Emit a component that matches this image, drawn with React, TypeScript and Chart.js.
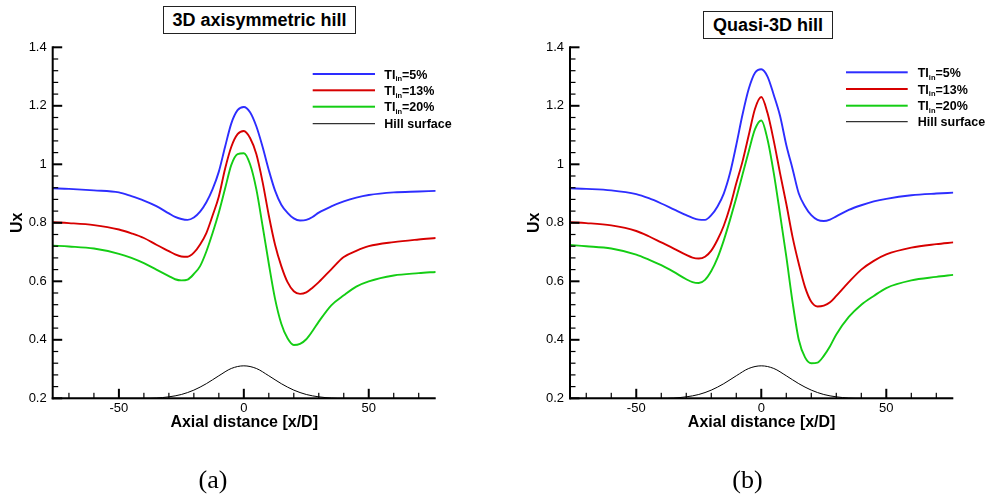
import React, { useEffect, useRef } from "react";
import { Chart, registerables } from "chart.js";

Chart.register(...registerables);

const FONT = '"Liberation Sans", Arial, Helvetica, sans-serif';
const SERIF = '"Liberation Serif", "Times New Roman", Times, serif';

// ---- data ----
const X_MIN = -76.5;
const X_MAX = 76.8;
const Y_MIN = 0.2;
const Y_MAX = 1.4;

const xGrid = [-76.5, -70, -60, -50, -45, -40, -35, -30, -27.5, -25, -22.5, -20, -17.5, -15, -12.5, -10, -7.5, -5, -2.5, 0, 2.5, 5, 7.5, 10, 12.5, 15, 17.5, 20, 22.5, 25, 27.5, 30, 35, 40, 45, 50, 60, 70, 76.8];

// (a) 3D axisymmetric hill
const blueA = [0.918, 0.916, 0.911, 0.904, 0.891, 0.876, 0.857, 0.832, 0.82, 0.813, 0.81, 0.818, 0.838, 0.87, 0.915, 0.975, 1.06, 1.14, 1.185, 1.196, 1.178, 1.13, 1.06, 0.98, 0.91, 0.862, 0.834, 0.815, 0.808, 0.81, 0.82, 0.835, 0.856, 0.873, 0.886, 0.895, 0.904, 0.907, 0.909];
const redA = [0.802, 0.799, 0.792, 0.777, 0.764, 0.748, 0.725, 0.703, 0.692, 0.685, 0.684, 0.698, 0.726, 0.765, 0.825, 0.89, 0.985, 1.06, 1.103, 1.114, 1.09, 1.035, 0.94, 0.825, 0.725, 0.652, 0.597, 0.566, 0.557, 0.562, 0.578, 0.597, 0.641, 0.683, 0.704, 0.72, 0.734, 0.743, 0.748];
const greenA = [0.722, 0.719, 0.712, 0.694, 0.68, 0.662, 0.64, 0.618, 0.607, 0.603, 0.606, 0.625, 0.652, 0.702, 0.765, 0.835, 0.917, 0.998, 1.035, 1.038, 1.0, 0.915, 0.79, 0.66, 0.54, 0.455, 0.405, 0.382, 0.386, 0.402, 0.43, 0.462, 0.518, 0.552, 0.582, 0.6, 0.62, 0.628, 0.632];

// (b) Quasi-3D hill
const blueB = [0.918, 0.916, 0.911, 0.898, 0.884, 0.866, 0.846, 0.826, 0.817, 0.811, 0.81, 0.826, 0.856, 0.9, 0.97, 1.066, 1.17, 1.258, 1.313, 1.325, 1.3, 1.237, 1.166, 1.066, 0.985, 0.9, 0.856, 0.826, 0.81, 0.806, 0.811, 0.822, 0.844, 0.86, 0.873, 0.882, 0.894, 0.9, 0.903];
const redB = [0.802, 0.799, 0.791, 0.772, 0.754, 0.733, 0.712, 0.69, 0.681, 0.678, 0.684, 0.705, 0.742, 0.79, 0.855, 0.935, 1.01, 1.1, 1.19, 1.23, 1.175, 1.08, 0.97, 0.865, 0.752, 0.66, 0.58, 0.53, 0.514, 0.517, 0.528, 0.55, 0.597, 0.64, 0.67, 0.692, 0.715, 0.727, 0.733];
const greenB = [0.724, 0.72, 0.712, 0.691, 0.674, 0.655, 0.632, 0.607, 0.597, 0.594, 0.605, 0.635, 0.68, 0.74, 0.81, 0.885, 0.965, 1.045, 1.12, 1.15, 1.085, 0.97, 0.83, 0.685, 0.53, 0.4, 0.34, 0.32, 0.322, 0.345, 0.378, 0.418, 0.478, 0.52, 0.55, 0.577, 0.603, 0.615, 0.622];

// hill surface (same in both panels)
const hillX = [-76.5, -50, -40, -35, -30, -25, -20, -15, -10, -5, 0, 5, 10, 15, 20, 25, 30, 35, 40, 50, 76.8];
const hillY = [0.2, 0.2, 0.2, 0.201, 0.205, 0.213, 0.228, 0.25, 0.277, 0.302, 0.311, 0.302, 0.277, 0.25, 0.228, 0.213, 0.205, 0.201, 0.2, 0.2, 0.2];

// ticks
const xTickLabels = [-50, 0, 50];
const xMinorTicks = [-70, -60, -40, -30, -20, -10, 10, 20, 30, 40, 60, 70];
const yTickLabels = [0.2, 0.4, 0.6, 0.8, 1, 1.2, 1.4];
const yMinorTicks = [0.24, 0.28, 0.32, 0.36, 0.44, 0.48, 0.52, 0.56, 0.64, 0.68, 0.72, 0.76, 0.84, 0.88, 0.92, 0.96, 1.04, 1.08, 1.12, 1.16, 1.24, 1.28, 1.32, 1.36];

// legend
const legendMain = ["TI", "TI", "TI", "Hill surface"];
const legendSub = ["in", "in", "in", ""];
const legendRest = ["=5%", "=13%", "=20%", ""];

const BLUE = "rgb(45,45,255)";
const RED = "rgb(215,0,0)";
const GREEN = "rgb(20,205,20)";
const BLACK = "#000";
const legendColors = [BLUE, RED, GREEN, BLACK];
const legendWidths = [2, 2, 2, 1];

const legendPlugin = {
  id: "tecLegend",
  afterDraw(chart: any, _args: any, opts: any) {
    if (!opts || !opts.ys) return;
    const ctx = chart.ctx;
    ctx.save();
    ctx.textAlign = "left";
    ctx.textBaseline = "alphabetic";
    legendMain.forEach((main, i) => {
      const ly = opts.ys[i];
      ctx.fillStyle = "#000";
      const base = ly + 4.6;
      let tx = opts.tx;
      ctx.font = `bold 12.5px ${FONT}`;
      ctx.fillText(main, tx, base);
      tx += ctx.measureText(main).width;
      if (legendSub[i]) {
        ctx.font = `bold 7.5px ${FONT}`;
        ctx.fillText(legendSub[i], tx, base + 2.6);
        tx += ctx.measureText(legendSub[i]).width;
      }
      if (legendRest[i]) {
        ctx.font = `bold 12.5px ${FONT}`;
        ctx.fillText(legendRest[i], tx, base);
      }
      const lw = legendWidths[i];
      ctx.fillStyle = legendColors[i];
      ctx.fillRect(opts.x0, ly - lw / 2, opts.x1 - opts.x0, lw);
    });
    ctx.restore();
  },
};

// axes + inward ticks drawn on an overlay canvas from the chart's own scales
function drawAxesOverlay(chart: any, canvas: HTMLCanvasElement) {
  const ctx = canvas.getContext("2d");
  if (!ctx) return;
  const x = chart.scales.x;
  const y = chart.scales.y;
  const left = x.getPixelForValue(X_MIN);
  const right = x.getPixelForValue(X_MAX);
  const top = y.getPixelForValue(Y_MAX);
  const bottom = y.getPixelForValue(Y_MIN);
  ctx.clearRect(0, 0, canvas.width, canvas.height);
  ctx.fillStyle = "#000";
  for (const v of xMinorTicks) {
    const px = x.getPixelForValue(v);
    ctx.fillRect(px - 0.6, bottom - 5.5, 1.2, 5.5);
  }
  for (const v of yMinorTicks) {
    const py = y.getPixelForValue(v);
    ctx.fillRect(left, py - 0.6, 5.5, 1.2);
  }
  for (const v of xTickLabels) {
    const px = x.getPixelForValue(v);
    ctx.fillRect(px - 1, bottom - 9.5, 2, 9.5);
  }
  for (const v of yTickLabels) {
    const py = y.getPixelForValue(v);
    ctx.fillRect(left, py - 1, 9.5, 2);
  }
  ctx.fillRect(left - 1, top - 1, 2, bottom - top + 2);
  ctx.fillRect(left - 1, bottom - 1, right - left + 1, 2);
}

type Panel = {
  left: number;
  yAxisW: number;
  padRight: number;
  uxPad: number;
  legend: { x0: number; x1: number; tx: number; ys: number[] };
  blue: number[];
  red: number[];
  green: number[];
};

const PANEL_W = 495;
const PANEL_H = 499;

function HillChart({ p }: { p: Panel }) {
  const ref = useRef<HTMLCanvasElement | null>(null);
  const overlayRef = useRef<HTMLCanvasElement | null>(null);
  useEffect(() => {
    if (!ref.current) return;
    const pts = (arr: number[]) => xGrid.map((x, i) => ({ x, y: arr[i] }));
    const line = (data: any, color: string, w: number) => ({
      data,
      borderColor: color,
      borderWidth: w,
      pointRadius: 0,
      cubicInterpolationMode: "monotone",
    });
    const chart = new Chart(ref.current, {
      type: "line",
      data: {
        datasets: [
          line(pts(p.blue), BLUE, 1.9),
          line(pts(p.red), RED, 1.9),
          line(pts(p.green), GREEN, 1.9),
          line(hillX.map((x, i) => ({ x, y: hillY[i] })), BLACK, 1),
        ],
      },
      options: {
        responsive: false,
        maintainAspectRatio: false,
        animation: false,
        events: [],
        layout: { padding: { left: 0, right: p.padRight, top: 47.3, bottom: 66.4 } },
        plugins: { legend: { display: false }, tooltip: { enabled: false }, tecLegend: p.legend } as any,
        scales: {
          x: {
            type: "linear",
            min: X_MIN,
            max: X_MAX,
            grid: { display: false, drawTicks: false },
            border: { display: false },
            afterBuildTicks: (s: any) => {
              s.ticks = xTickLabels.map((v) => ({ value: v }));
            },
            afterFit: (s: any) => {
              s.height = 34.3;
            },
            ticks: {
              color: "#000",
              font: { family: FONT, size: 13 },
              padding: 2,
              callback: (v: any) => String(v),
            },
            title: {
              display: true,
              text: "Axial distance [x/D]",
              color: "#000",
              font: { family: FONT, size: 16, weight: "bold" },
              padding: { top: 0, bottom: 0 },
            },
          },
          y: {
            type: "linear",
            min: Y_MIN,
            max: Y_MAX,
            grid: { display: false, drawTicks: false },
            border: { display: false },
            afterBuildTicks: (s: any) => {
              s.ticks = yTickLabels.map((v) => ({ value: v }));
            },
            afterFit: (s: any) => {
              s.width = p.yAxisW;
            },
            ticks: {
              color: "#000",
              font: { family: FONT, size: 13 },
              padding: 6,
              callback: (v: any) => String(+Number(v).toFixed(2)),
            },
            title: {
              display: true,
              text: "Ux",
              color: "#000",
              font: { family: FONT, size: 16, weight: "bold" },
              padding: { top: p.uxPad, bottom: 0 },
            },
          },
        },
      } as any,
      plugins: [legendPlugin],
    });
    if (overlayRef.current) drawAxesOverlay(chart, overlayRef.current);
    return () => chart.destroy();
  }, [p]);
  const style: React.CSSProperties = {
    position: "absolute",
    left: p.left,
    top: 0,
    width: PANEL_W,
    height: PANEL_H,
  };
  return (
    <>
      <canvas ref={ref} width={PANEL_W} height={PANEL_H} style={{ ...style, zIndex: 1 }} />
      <canvas
        ref={overlayRef}
        width={PANEL_W}
        height={PANEL_H}
        style={{ ...style, zIndex: 5, pointerEvents: "none" }}
      />
    </>
  );
}

const panelA: Panel = {
  left: 0,
  yAxisW: 52.7,
  padRight: 59.3,
  uxPad: 7.9,
  legend: { x0: 312.7, x1: 375, tx: 384.3, ys: [74, 90.3, 106.7, 123.7] },
  blue: blueA,
  red: redA,
  green: greenA,
};

const panelB: Panel = {
  left: 495,
  yAxisW: 75,
  padRight: 36.7,
  uxPad: 29.6,
  legend: { x0: 351, x1: 412.7, tx: 422.7, ys: [72.3, 89, 105.7, 121.7] },
  blue: blueB,
  red: redB,
  green: greenB,
};

const titleBox = (left: number, top: number, width: number, text: string) => (
  <div
    style={{
      position: "absolute",
      left,
      top,
      width,
      height: 28,
      boxSizing: "border-box",
      border: "1px solid #222",
      background: "#fff",
      font: `bold 18px ${FONT}`,
      lineHeight: "26px",
      textAlign: "center",
      color: "#000",
      whiteSpace: "nowrap",
      zIndex: 3,
    }}
  >
    {text}
  </div>
);

const caption = (cx: number, text: string) => (
  <div
    style={{
      position: "absolute",
      left: cx - 50,
      top: 465,
      width: 100,
      font: `26px ${SERIF}`,
      lineHeight: "30px",
      textAlign: "center",
      color: "#000",
      zIndex: 3,
    }}
  >
    {text}
  </div>
);

export default function App() {
  return (
    <div style={{ position: "absolute", left: 0, top: 0, width: 990, height: 499, background: "#fff" }}>
      <HillChart p={panelA} />
      <HillChart p={panelB} />
      {titleBox(163, 6, 193, "3D axisymmetric hill")}
      {titleBox(703, 11, 130, "Quasi-3D hill")}
      {caption(213, "(a)")}
      {caption(747.5, "(b)")}
    </div>
  );
}
